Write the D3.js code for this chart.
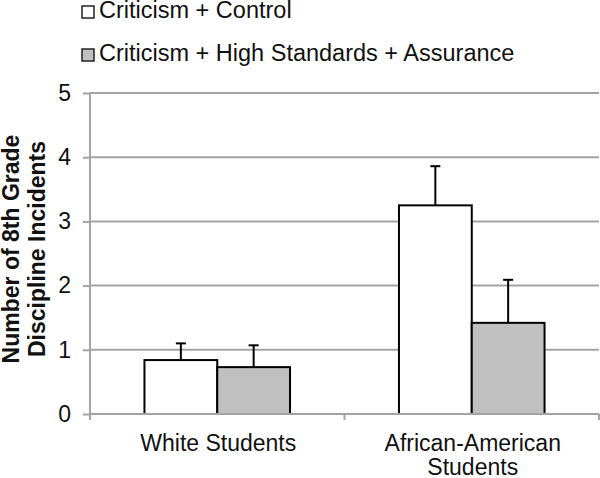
<!DOCTYPE html>
<html>
<head>
<meta charset="utf-8">
<script src="https://cdn.jsdelivr.net/npm/d3@7"></script>
<style>
  html, body { margin: 0; padding: 0; background: #fff; }
  svg { display: block; font-family: "Liberation Sans", Arial, sans-serif; }
</style>
</head>
<body>
<svg id="chart" width="600" height="478"></svg>
<script>
// ---- data ----
const categories = ["White Students", "African-American Students"];
const categoryLines = [["White Students"], ["African-American", "Students"]];
const seriesNames = ["Criticism + Control", "Criticism + High Standards + Assurance"];
const controlValues = [0.84, 3.25];
const controlErrors = [0.26, 0.61];
const treatmentValues = [0.73, 1.42];
const treatmentErrors = [0.34, 0.67];
const yTicks = [0, 1, 2, 3, 4, 5];
const yTitleLines = ["Number of 8th Grade", "Discipline Incidents"];

const seriesValues = [controlValues, treatmentValues];
const seriesErrors = [controlErrors, treatmentErrors];
const seriesFill = ["#ffffff", "#c0c0c0"];

const svg = d3.select("#chart");
const plotLeft = 90, plotRight = 599, plotTop = 93, plotBottom = 414;

const y = d3.scaleLinear().domain([0, 5]).range([plotBottom, plotTop]);
const x = d3.scaleBand().domain(categories).range([plotLeft, plotRight]).padding(0);
const bw = x.bandwidth();
const xs = d3.scaleBand().domain(seriesNames).range([bw * 0.214, bw * 0.786]).padding(0);

const gridColor = "#a3a3a3";

// gridlines
svg.append("g").selectAll("line").data(yTicks.filter(t => t > 0)).join("line")
  .attr("x1", plotLeft).attr("x2", plotRight)
  .attr("y1", d => y(d)).attr("y2", d => y(d))
  .attr("stroke", gridColor).attr("stroke-width", 2);

// y axis
const yAxis = svg.append("g").attr("transform", `translate(${plotLeft},0)`)
  .call(d3.axisLeft(y).tickValues(yTicks).tickFormat(d3.format("d")).tickSize(7).tickSizeOuter(0).tickPadding(12));
yAxis.select(".domain").remove();
yAxis.append("line").attr("x1", 0).attr("x2", 0).attr("y1", plotTop).attr("y2", plotBottom + 6)
  .attr("stroke", gridColor).attr("stroke-width", 2);
yAxis.selectAll(".tick line").attr("stroke", gridColor).attr("stroke-width", 2);
yAxis.selectAll(".tick text").attr("font-size", 23).attr("fill", "#111")
  .attr("font-family", "'Liberation Sans', Arial, sans-serif");

// bars
const groups = svg.append("g").selectAll("g").data(categories).join("g")
  .attr("transform", d => `translate(${x(d)},0)`);

seriesNames.forEach((s, si) => {
  groups.append("rect")
    .attr("x", xs(s))
    .attr("width", xs.bandwidth())
    .attr("y", (d, i) => y(seriesValues[si][i]))
    .attr("height", (d, i) => plotBottom - y(seriesValues[si][i]))
    .attr("fill", seriesFill[si])
    .attr("stroke", "#000").attr("stroke-width", 2);
  // error bars
  groups.append("line")
    .attr("x1", xs(s) + xs.bandwidth() / 2).attr("x2", xs(s) + xs.bandwidth() / 2)
    .attr("y1", (d, i) => y(seriesValues[si][i]))
    .attr("y2", (d, i) => y(seriesValues[si][i] + seriesErrors[si][i]))
    .attr("stroke", "#000").attr("stroke-width", 2);
  groups.append("line")
    .attr("x1", xs(s) + xs.bandwidth() / 2 - 5).attr("x2", xs(s) + xs.bandwidth() / 2 + 5)
    .attr("y1", (d, i) => y(seriesValues[si][i] + seriesErrors[si][i]))
    .attr("y2", (d, i) => y(seriesValues[si][i] + seriesErrors[si][i]))
    .attr("stroke", "#000").attr("stroke-width", 2);
});

// x axis
const xAxisLine = svg.append("g");
xAxisLine.append("line").attr("x1", plotLeft).attr("x2", plotRight)
  .attr("y1", plotBottom).attr("y2", plotBottom).attr("stroke", gridColor).attr("stroke-width", 2);
const edges = [x(categories[0]), x(categories[1]), x(categories[1]) + bw];
xAxisLine.selectAll("line.tk").data(edges.slice(1)).join("line").attr("class", "tk")
  .attr("x1", d => d).attr("x2", d => d).attr("y1", plotBottom).attr("y2", plotBottom + 6)
  .attr("stroke", gridColor).attr("stroke-width", 2);

// category labels
categories.forEach((c, i) => {
  const t = svg.append("text").attr("text-anchor", "middle").attr("font-size", 23).attr("fill", "#111")
    .attr("x", x(c) + bw / 2 + 1).attr("y", 451);
  categoryLines[i].forEach((ln, j) => {
    t.append("tspan").attr("x", x(c) + bw / 2 + 1).attr("dy", j === 0 ? 0 : 24).text(ln);
  });
});

// y title
const yt = svg.append("text").attr("transform", `translate(19,249) rotate(-90)`)
  .attr("text-anchor", "middle").attr("font-size", 23).attr("font-weight", "bold").attr("fill", "#111");
yTitleLines.forEach((ln, j) => {
  yt.append("tspan").attr("x", 0).attr("dy", j === 0 ? 0 : 25.5).text(ln);
});

// legend
const legend = svg.append("g");
seriesNames.forEach((s, i) => {
  const yy = 6 + i * 43;
  legend.append("rect").attr("x", 82).attr("y", yy).attr("width", 12).attr("height", 12)
    .attr("fill", seriesFill[i]).attr("stroke", "#222").attr("stroke-width", 1.5);
  legend.append("text").attr("x", 99).attr("y", yy + 11.5).attr("font-size", 23.5).attr("fill", "#111")
    .text(s);
});
</script>
</body>
</html>
